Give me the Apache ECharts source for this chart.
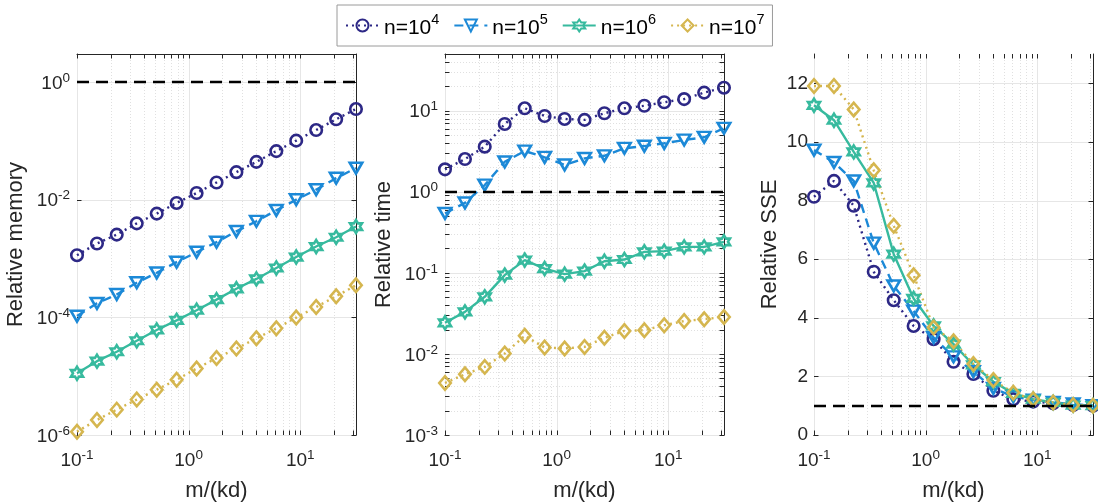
<!DOCTYPE html>
<html><head><meta charset="utf-8">
<script src="https://cdn.jsdelivr.net/npm/echarts@6/dist/echarts.min.js"></script>
<style>html,body{margin:0;padding:0;background:#fff}#c{width:1098px;height:502px}</style>
</head><body><div id="c"></div>
<script>
// ---------------- data ----------------
const xValues = [0.1, 0.151, 0.227, 0.343, 0.518, 0.781, 1.18, 1.78, 2.68, 4.05, 6.11, 9.21, 13.9, 21.0, 31.6];
const seriesNames = ['n=10^4', 'n=10^5', 'n=10^6', 'n=10^7'];

const memN4 = [1.14e-3, 1.8e-3, 2.55e-3, 3.96e-3, 5.8e-3, 8.8e-3, 1.3e-2, 1.96e-2, 2.94e-2, 4.4e-2, 6.7e-2, 0.101, 0.153, 0.233, 0.348];
const memN5 = [1.05e-4, 1.73e-4, 2.45e-4, 3.88e-4, 5.7e-4, 8.7e-4, 1.28e-3, 1.9e-3, 2.9e-3, 4.3e-3, 6.6e-3, 1.0e-2, 1.48e-2, 2.33e-2, 3.45e-2];
const memN6 = [1.12e-5, 1.8e-5, 2.6e-5, 4.0e-5, 6.1e-5, 8.9e-5, 1.32e-4, 2.0e-4, 3.06e-4, 4.5e-4, 6.9e-4, 1.06e-3, 1.6e-3, 2.3e-3, 3.5e-3];
const memN7 = [1.14e-6, 1.8e-6, 2.7e-6, 4.0e-6, 5.9e-6, 8.7e-6, 1.35e-5, 2.03e-5, 2.95e-5, 4.4e-5, 6.5e-5, 9.9e-5, 1.5e-4, 2.29e-4, 3.5e-4];

const timeN4 = [1.89, 2.53, 3.6, 6.85, 10.7, 8.6, 7.9, 7.7, 9.3, 10.7, 11.5, 12.7, 13.9, 16.7, 19.2];
const timeN5 = [0.54, 0.73, 1.21, 2.34, 3.18, 2.66, 2.14, 2.58, 2.78, 3.44, 3.66, 3.96, 4.35, 4.7, 6.07];
const timeN6 = [0.0242, 0.033, 0.0506, 0.0938, 0.1435, 0.113, 0.0964, 0.105, 0.139, 0.146, 0.1815, 0.185, 0.209, 0.209, 0.2415];
const timeN7 = [0.00438, 0.00561, 0.00692, 0.0101, 0.0167, 0.0120, 0.0117, 0.0122, 0.0158, 0.0192, 0.0196, 0.0226, 0.0255, 0.0268, 0.0286];

const sseN4 = [8.13, 8.67, 7.82, 5.57, 4.60, 3.72, 3.27, 2.50, 2.08, 1.51, 1.22, 1.14, 1.08, 1.02, 1.0];
const sseN5 = [9.72, 9.30, 8.67, 6.55, 5.09, 4.23, 3.32, 2.67, 2.16, 1.59, 1.31, 1.19, 1.11, 1.06, 1.0];
const sseN6 = [11.25, 10.74, 9.66, 8.60, 6.17, 4.66, 3.72, 3.10, 2.39, 1.82, 1.42, 1.22, 1.11, 1.02, 1.0];
const sseN7 = [11.91, 11.91, 11.11, 9.03, 7.14, 5.45, 3.67, 3.20, 2.42, 1.875, 1.44, 1.22, 1.11, 1.02, 1.0];

const referenceLevel = 1;

// tick values
const xMajorTicks = [0.1, 1, 10];
const xMinorTicks = [0.2,0.3,0.4,0.5,0.6,0.7,0.8,0.9, 2,3,4,5,6,7,8,9, 20,30];
const memMajorTicks = [1e-6, 1e-4, 1e-2, 1];
const timeMajorTicks = [1e-3, 1e-2, 1e-1, 1, 10];
const timeMinorTicks = [2e-3,3e-3,4e-3,5e-3,6e-3,7e-3,8e-3,9e-3, 2e-2,3e-2,4e-2,5e-2,6e-2,7e-2,8e-2,9e-2,
  0.2,0.3,0.4,0.5,0.6,0.7,0.8,0.9, 2,3,4,5,6,7,8,9, 20,30,40];
const sseMajorTicks = [0, 2, 4, 6, 8, 10, 12];

// ---------------- styling ----------------
const FONT = 'Liberation Sans, Arial, Helvetica, sans-serif';
const AX = '#262626';
const hexagram = 'path://M0,-10L2.887,-5L8.66,-5L5.774,0L8.66,5L2.887,5L0,10L-2.887,5L-8.66,5L-5.774,0L-8.66,-5L-2.887,-5Z';
const downTri = 'path://M0,0L10,0L5,8.66Z';
const styles = [
  { color: '#2d2886', symbol: 'circle', size: 11.5, dash: [2, 4] },
  { color: '#1c89d7', symbol: downTri, size: [12.5, 10.8], dash: [9, 6] },
  { color: '#37ba9e', symbol: hexagram, size: [12, 13], dash: 'solid' },
  { color: '#d5b64f', symbol: 'diamond', size: [11.5, 13.5], dash: [2, 4] }
];

const panels = [
  { data: [memN4, memN5, memN6, memN7], yType: 'log', yMin: 1e-6, yMax: 3, yMajor: memMajorTicks, yMinor: [], yName: 'Relative memory', left: 77, nameGap: 50 },
  { data: [timeN4, timeN5, timeN6, timeN7], yType: 'log', yMin: 1e-3, yMax: 50, yMajor: timeMajorTicks, yMinor: timeMinorTicks, yName: 'Relative time', left: 445, nameGap: 50 },
  { data: [sseN4, sseN5, sseN6, sseN7], yType: 'value', yMin: 0, yMax: 13, yMajor: sseMajorTicks, yMinor: [], yName: 'Relative SSE', left: 814, nameGap: 33 }
];

function logLabel(v) {
  const l = Math.log10(v);
  const e = Math.round(l);
  if (Math.abs(l - e) > 1e-6) return '';
  return '{b|10}{s|' + e + '}';
}
function memLabel(v) {
  const l = Math.log10(v);
  const e = Math.round(l);
  if (Math.abs(l - e) > 1e-6 || e % 2 !== 0) return '';
  return '{b|10}{s|' + e + '}';
}
const richTick = {
  b: { fontSize: 19, fontFamily: FONT, color: AX, verticalAlign: 'bottom', lineHeight: 22 },
  s: { fontSize: 13.5, fontFamily: FONT, color: AX, verticalAlign: 'top', lineHeight: 13 }
};

const grids = [], xAxes = [], yAxes = [], series = [];
panels.forEach((p, i) => {
  grids.push({ left: p.left, top: 54, width: 279, height: 381, outerBoundsMode: 'none' });
  const xBase = { type: 'log', logBase: 10, min: 0.1, max: 31.6228, gridIndex: i,
    axisLine: { show: true, lineStyle: { color: AX, width: 1 } }, axisTick: { show: false }, splitLine: { show: false } };
  xAxes.push(Object.assign({}, xBase, {
    position: 'bottom',
    axisLabel: { formatter: logLabel, margin: 13, rich: richTick, color: AX },
    name: 'm/(kd)', nameLocation: 'middle', nameGap: 45, nameMoveOverlap: false,
    nameTextStyle: { fontSize: 22, fontFamily: FONT, color: AX }
  }));
  xAxes.push(Object.assign({}, xBase, { position: 'top', axisLabel: { show: false } }));
  const yBase = { type: p.yType, min: p.yMin, max: p.yMax, gridIndex: i,
    axisLine: { show: true, lineStyle: { color: AX, width: 1 } }, axisTick: { show: false }, splitLine: { show: false } };
  if (p.yType === 'log') yBase.logBase = 10; else yBase.interval = 2;
  const yLab = p.yType === 'log'
    ? { formatter: i === 0 ? memLabel : logLabel, margin: 7, rich: richTick, color: AX }
    : { margin: 6, fontSize: 19, fontFamily: FONT, color: AX, showMaxLabel: false };
  yAxes.push(Object.assign({}, yBase, {
    position: 'left', axisLabel: yLab,
    name: p.yName, nameLocation: 'middle', nameGap: p.nameGap, nameMoveOverlap: false,
    nameTextStyle: { fontSize: 22, fontFamily: FONT, color: AX }
  }));
  yAxes.push(Object.assign({}, yBase, { position: 'right', axisLabel: { show: false } }));

  // grid lines and ticks (MATLAB style), drawn through the axis scales
  const items = [];
  xMajorTicks.forEach(v => items.push([v, 1, 1]));
  xMinorTicks.forEach(v => items.push([v, 1, 2]));
  p.yMajor.forEach(v => items.push([1, v, 3]));
  p.yMinor.forEach(v => items.push([1, v, 4]));
  series.push({
    type: 'custom', xAxisIndex: 2 * i, yAxisIndex: 2 * i, z: 1, silent: true, clip: false,
    data: items,
    renderItem: function (params, api) {
      const cs = params.coordSys;
      const pt = api.coord([api.value(0), api.value(1)]);
      const kind = api.value(2);
      const L = 4.5;
      const x0 = cs.x, x1 = cs.x + cs.width, y0 = cs.y, y1 = cs.y + cs.height;
      const major = (kind === 1 || kind === 3);
      const gStyle = major ? { stroke: '#e6e6e6', lineWidth: 1 } : { stroke: '#e0e0e0', lineWidth: 1, lineDash: [1, 2] };
      const tStyle = { stroke: AX, lineWidth: 1 };
      const ch = [];
      if (kind <= 2) {
        const x = Math.round(pt[0]) + 0.5;
        ch.push({ type: 'line', shape: { x1: x, y1: y0, x2: x, y2: y1 }, style: gStyle });
        ch.push({ type: 'line', shape: { x1: x, y1: y1, x2: x, y2: y1 - L }, style: tStyle });
        ch.push({ type: 'line', shape: { x1: x, y1: y0, x2: x, y2: y0 + L }, style: tStyle });
      } else {
        const y = Math.round(pt[1]) + 0.5;
        ch.push({ type: 'line', shape: { x1: x0, y1: y, x2: x1, y2: y }, style: gStyle });
        ch.push({ type: 'line', shape: { x1: x0, y1: y, x2: x0 + L, y2: y }, style: tStyle });
        ch.push({ type: 'line', shape: { x1: x1, y1: y, x2: x1 - L, y2: y }, style: tStyle });
      }
      return { type: 'group', children: ch };
    }
  });

  p.data.forEach((arr, k) => {
    const st = styles[k];
    series.push({
      name: seriesNames[k], type: 'line', xAxisIndex: 2 * i, yAxisIndex: 2 * i, z: 3,
      data: xValues.map((x, j) => [x, arr[j]]),
      color: st.color,
      symbol: st.symbol, symbolSize: st.size, showAllSymbol: true,
      lineStyle: { color: st.color, width: 2.4, type: st.dash, cap: 'butt' },
      itemStyle: { color: 'rgba(255,255,255,0)', borderColor: st.color, borderWidth: 2.6 },
      emphasis: { disabled: true }, animation: false
    });
  });

  series.push({
    type: 'line', xAxisIndex: 2 * i, yAxisIndex: 2 * i, data: [], z: 4,
    markLine: { silent: true, animation: false, symbol: ['none', 'none'], label: { show: false },
      lineStyle: { color: '#000', width: 2.4, type: [12, 7] },
      data: [{ yAxis: referenceLevel }] }
  });
});

const chart = echarts.init(document.getElementById('c'), null, { renderer: 'canvas' });
chart.setOption({
  animation: false,
  backgroundColor: '#fff',
  grid: grids, xAxis: xAxes, yAxis: yAxes, series: series,
  legend: {
    data: seriesNames, left: 337, top: 5,
    itemWidth: 33, itemHeight: 15, itemGap: 14,
    padding: [7, 8, 7, 8], borderColor: '#9a9a9a', borderWidth: 1, backgroundColor: '#fff',
    selectedMode: false,
    formatter: function (name) { return '{b|n=10}{s|' + name.split('^')[1] + '}'; },
    textStyle: { color: '#000', fontFamily: FONT, rich: {
      b: { fontSize: 21, fontFamily: FONT, color: '#000', verticalAlign: 'bottom', lineHeight: 27 },
      s: { fontSize: 14.5, fontFamily: FONT, color: '#000', verticalAlign: 'top', lineHeight: 14 }
    } }
  }
});
</script></body></html>
